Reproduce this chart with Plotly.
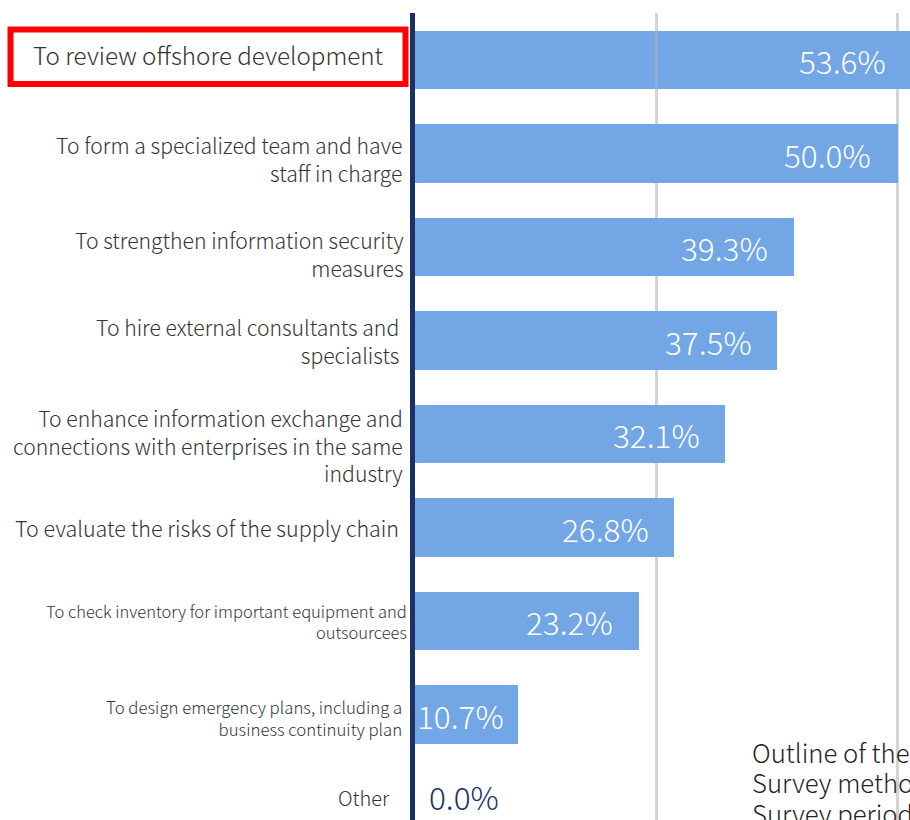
import plotly.graph_objects as go

# ---------------- data ----------------
categories = [
    "To review offshore development",
    "To form a specialized team and have staff in charge",
    "To strengthen information security measures",
    "To hire external consultants and specialists",
    "To enhance information exchange and connections with enterprises in the same industry",
    "To evaluate the risks of the supply chain",
    "To check inventory for important equipment and outsourcees",
    "To design emergency plans, including a business continuity plan",
    "Other",
]
values = [53.6, 50.0, 39.3, 37.5, 32.1, 26.8, 23.2, 10.7, 0.0]
tick_labels = [
    "To review offshore development",
    "To form a specialized team and have<br>staff in charge",
    "To strengthen information security<br>measures",
    "To hire external consultants and<br>specialists",
    "To enhance information exchange and<br>connections with enterprises in the same<br>industry",
    "To evaluate the risks of the supply chain",
    "To check inventory for important equipment and<br>outsourcees",
    "To design emergency plans, including a<br>business continuity plan",
    "Other",
]
grid_values = [25, 50]
outline_lines = ["Outline of the survey", "Survey method", "Survey period"]

# ---------------- styling ----------------
W, H = 910, 820
ML, MT = 415, 13
PW, PH = W - ML, H - MT
XMAX = PW / 9.65
FONT = "Noto Sans CJK JP"
BAR = "#72A6E4"
NAVY = "#1C3163"
TXT = "#333333"

def px(x):
    return (x - ML) / PW

def py(y):
    return (H - y) / PH

label_style = [
    dict(size=24.2, xshift=-29, yshift=6),
    dict(size=21.2, xshift=-11, yshift=-5),
    dict(size=21.2, xshift=-9, yshift=-6),
    dict(size=21.2, xshift=-14, yshift=0),
    dict(size=21.2, xshift=-10, yshift=-11),
    dict(size=21.5, xshift=-14, yshift=0),
    dict(size=16.5, xshift=-6, yshift=0),
    dict(size=16.8, xshift=-11, yshift=-3),
    dict(size=20, xshift=-23, yshift=11),
]
value_shift = [-22, -25, -24, -23, -23, -23, -24, -12, 12]

fig = go.Figure()
fig.add_trace(go.Bar(
    x=values, y=categories, orientation="h",
    marker=dict(color=BAR, line=dict(width=0)),
    width=0.63, hoverinfo="skip",
))

annotations = []
for cat, lab, st in zip(categories, tick_labels, label_style):
    annotations.append(dict(
        x=0, xref="paper", y=cat, yref="y", text=lab, showarrow=False,
        xanchor="right", yanchor="middle", align="right",
        xshift=st["xshift"], yshift=st["yshift"],
        font=dict(family=FONT, size=st["size"], color=TXT, weight=300),
    ))

for cat, v, sh in zip(categories, values, value_shift):
    txt = f"{v:.1f}%"
    if v > 5:
        annotations.append(dict(
            x=min(v, XMAX), xref="x", y=cat, yref="y", text=txt, showarrow=False,
            xanchor="right", yanchor="middle", xshift=sh, yshift=0,
            font=dict(family=FONT, size=31.5, color="white", weight=300),
        ))
    else:
        annotations.append(dict(
            x=v, xref="x", y=cat, yref="y", text=txt, showarrow=False,
            xanchor="left", yanchor="middle", xshift=sh, yshift=12,
            font=dict(family=FONT, size=31.5, color=NAVY, weight=300),
        ))

for i, line in enumerate(outline_lines):
    annotations.append(dict(
        x=px(750), xref="paper", y=py(751 + 30.5 * i), yref="paper",
        text=line, showarrow=False, xanchor="left", yanchor="middle",
        font=dict(family=FONT, size=25.7, color="#222222", weight=300),
    ))

shapes = [
    # red highlight box around the first label
    dict(type="rect", xref="paper", yref="paper",
         x0=px(10.5), x1=px(405.5), y0=py(84), y1=py(29.5),
         line=dict(color="#FF0000", width=6), fillcolor="rgba(0,0,0,0)"),
    # white panel behind the outline text (covers the grid line)
    dict(type="rect", xref="paper", yref="paper", layer="below",
         x0=px(700), x1=1.0, y0=0, y1=py(697),
         line=dict(width=0), fillcolor="white"),
    # faint grid line showing through the first bar
    dict(type="line", xref="x", yref="y", x0=grid_values[0], x1=grid_values[0],
         y0=-0.315, y1=0.315, line=dict(color="rgba(170,180,195,0.55)", width=3)),
]

fig.update_layout(
    width=W, height=H,
    margin=dict(l=ML, r=0, t=MT, b=0, pad=0),
    paper_bgcolor="white", plot_bgcolor="white",
    showlegend=False, bargap=0,
    font=dict(family=FONT, color=TXT),
    annotations=annotations, shapes=shapes,
    xaxis=dict(range=[0, XMAX], tickvals=grid_values, showticklabels=False,
               showgrid=True, gridcolor="#D4D4D4", gridwidth=3,
               zeroline=False, showline=False, ticks=""),
    yaxis=dict(type="category", categoryorder="array", categoryarray=categories,
               range=[(H - 60) / 93.5, -47 / 93.5], showticklabels=False,
               showgrid=False, zeroline=False, ticks="",
               showline=True, linecolor=NAVY, linewidth=5),
)

fig.write_html("out.html", config={"displayModeBar": False},
               post_script="document.body.style.margin='0';")
